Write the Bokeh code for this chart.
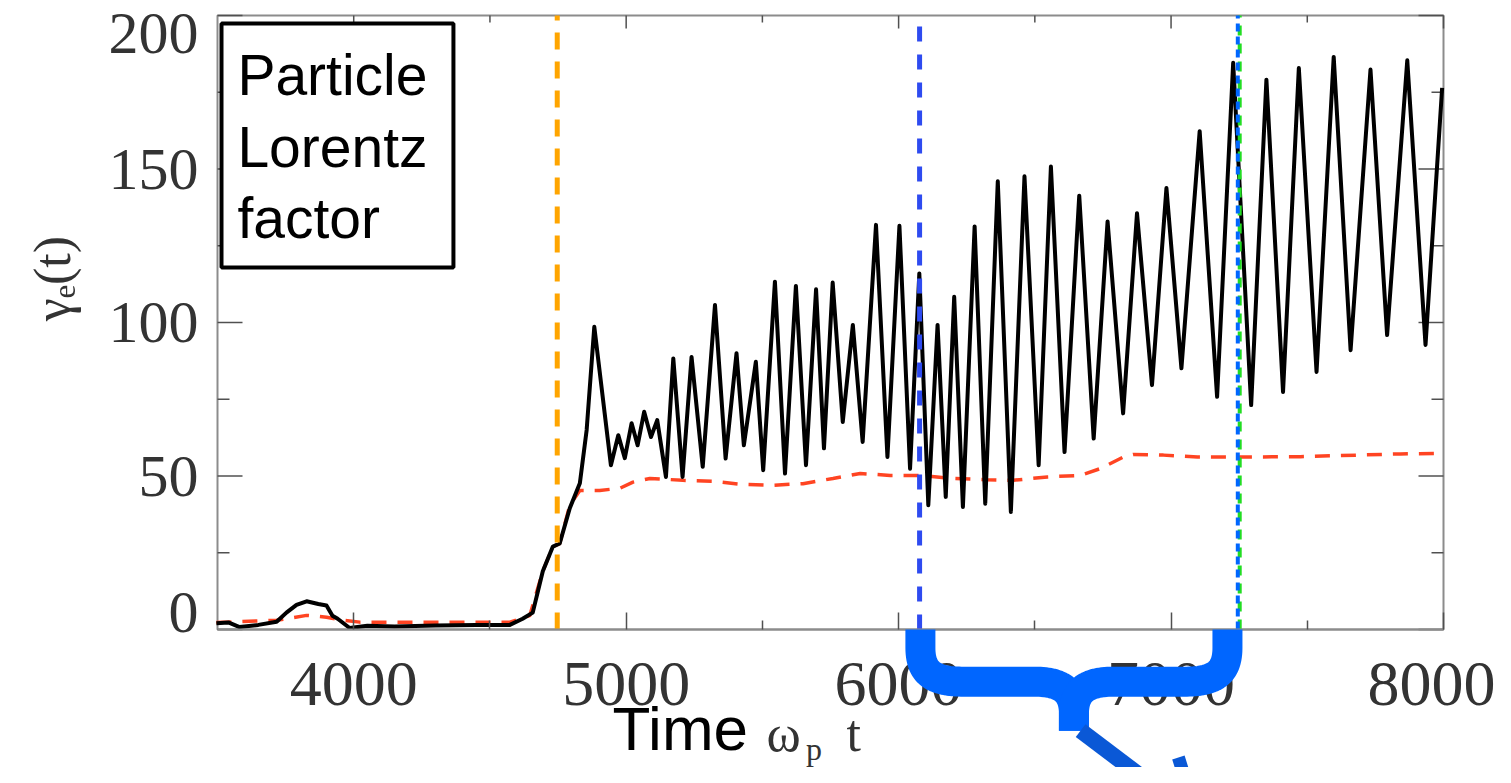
import numpy as np
from bokeh.plotting import figure
from bokeh.models import Range1d, LinearAxis, FixedTicker, BoxAnnotation
from bokeh.core.properties import value
from bokeh.embed import file_html
from bokeh.resources import INLINE

# ---------------- data ----------------
black_t = [3496, 3540, 3581, 3650, 3717, 3753, 3790, 3827, 3870, 3900, 3922, 3941, 3985,
           4050, 4150, 4300, 4450, 4573, 4620, 4657, 4694, 4731, 4756, 4793, 4830, 4855,
           4883, 4944, 4971, 4995, 5020, 5042, 5066, 5091, 5114, 5146, 5173, 5207, 5240,
           5281, 5326, 5365, 5405, 5432, 5476, 5503, 5546, 5583, 5623, 5660, 5697, 5726,
           5758, 5795, 5832, 5868, 5917, 5959, 6003, 6042, 6076, 6109, 6143, 6173, 6204,
           6236, 6279, 6318, 6364, 6412, 6462, 6514, 6559, 6609, 6663, 6716, 6767, 6824,
           6875, 6930, 6983, 7038, 7105, 7169, 7228, 7294, 7350, 7411, 7469, 7534, 7597,
           7659, 7732, 7793, 7867, 7934, 7995]
black_gamma = [2.0, 2.3, 0.8, 1.5, 2.5, 5.5, 8.0, 9.2, 8.3, 7.8, 4.5, 3.5, 0.5,
               1.2, 1.0, 1.3, 1.5, 1.5, 3.5, 5.5, 19, 27, 28, 39.5, 47.6, 65,
               98.6, 53.5, 63.3, 55.8, 67.2, 60, 70.9, 62.7, 68.2, 49.7, 88.3, 49.7, 88.8,
               53, 105.7, 55.7, 90, 60, 87.2, 51.9, 113.3, 50.8, 111.9, 53.5, 110.8, 59,
               113, 67.6, 99.2, 61.1, 131.8, 56.2, 131.5, 52.4, 116, 40.5, 99.2, 43.2, 108.4,
               39.9, 131.3, 41, 146, 38.3, 147.6, 53.5, 150.8, 57.8, 141.3, 62.2, 132.9, 70.4,
               135.6, 79.6, 143.8, 85.1, 162.3, 75.8, 184.6, 73.1, 179.1, 77.4, 182.9, 83.9, 186.5,
               91, 182.4, 95.9, 185.4, 92.7, 176.4]

red_t = [3496, 3717, 3827, 3900, 3959, 4022, 4573, 4646, 4694, 4731, 4756, 4793, 4830,
         4903, 4977, 5025, 5087, 5208, 5318, 5418, 5539, 5649, 5759, 5859, 5969, 6079,
         6200, 6325, 6421, 6546, 6667, 6740, 6825, 6861, 6972, 7097, 7291, 7475, 7842, 8000]
red_gamma = [2.3, 3.0, 4.6, 4.0, 3.0, 2.4, 2.4, 4.5, 19, 27, 28, 40.5, 45.3,
             45.3, 46, 48, 49.2, 48.6, 48.3, 47.3, 47, 47.5, 49.2, 50.8, 50.2, 50.2,
             49.2, 48.8, 48.6, 49.7, 50.2, 52.4, 56.2, 57, 56.8, 56.2, 56.2, 56.3, 57.2, 57.4]

orange_line_t = 4747
blue_line_t = 6077
blue2_line_t = 7245
green_line_t = 7252

x_min, x_max = 3500, 8000
y_min, y_max = 0, 200
x_ticks = [4000, 5000, 6000, 7000, 8000]
x_minor = [4500, 5500, 6500, 7500]
y_ticks = [0, 50, 100, 150, 200]
y_tick_labels = ["0", "50", "100", "150", "200"]
y_minor = [25, 75, 125, 175]

box_lines = ["Particle", "Lorentz", "factor"]
brace_arms = [6080, 7207]

# ---------------- figure: frame covers the whole canvas ----------------
W, H = 1495, 767
kx = 1226 / (x_max - x_min)      # px per time unit
ky = 614 / (y_max - y_min)       # px per gamma unit
p = figure(width=W, height=H,
           x_range=Range1d(x_min - 217 / kx, x_max + (W - 1443) / kx),
           y_range=Range1d(y_min - (H - 629) / ky, y_max + 15 / ky),
           output_backend="svg", toolbar_location=None,
           x_axis_location=None, y_axis_location=None,
           min_border_left=0, min_border_right=0, min_border_top=0, min_border_bottom=0)
p.outline_line_color = None
p.background_fill_color = "white"
p.border_fill_color = "white"
for g in list(p.xgrid) + list(p.ygrid):
    g.visible = False

AXC = "#8c8c8c"
TKC = "#505050"
SERIF = value("Liberation Serif")
SANS = value("Liberation Sans")

# plot box
p.add_layout(BoxAnnotation(left=x_min, right=x_max, bottom=y_min, top=y_max,
                           fill_color=None, line_color=AXC, line_alpha=1.0,
                           line_width=2, level="underlay"))

# bottom axis (ticks + labels)
xb = LinearAxis(fixed_location=y_min, bounds=(x_min, x_max),
                ticker=FixedTicker(ticks=x_ticks, minor_ticks=x_minor))
xb.axis_line_color = AXC
xb.axis_line_width = 2
xb.major_tick_in = 17
xb.major_tick_out = 0
xb.minor_tick_in = 9
xb.minor_tick_out = 0
xb.major_tick_line_color = TKC
xb.minor_tick_line_color = TKC
xb.major_tick_line_width = 1.5
xb.minor_tick_line_width = 1.5
xb.major_label_text_font = "Liberation Serif"
xb.major_label_text_font_size = "64px"
xb.major_label_text_color = "#333333"
xb.major_label_standoff = 33
p.add_layout(xb, "below")

# mirrored ticks on top, left and right edges
p.ray(x=x_ticks, y=[y_max] * len(x_ticks), length=13, length_units="screen",
      angle=-np.pi / 2, line_color=TKC, line_width=1.5)
p.ray(x=x_minor, y=[y_max] * len(x_minor), length=7, length_units="screen",
      angle=-np.pi / 2, line_color=TKC, line_width=1.5)
for xe, ang in ((x_min, 0.0), (x_max, np.pi)):
    p.ray(x=[xe] * len(y_ticks), y=y_ticks, length=25, length_units="screen",
          angle=ang, line_color=TKC, line_width=1.5)
    p.ray(x=[xe] * len(y_minor), y=y_minor, length=12, length_units="screen",
          angle=ang, line_color=TKC, line_width=1.5)

# y tick labels (end labels pulled inside the box, like the original)
nudge = [17 / ky, 0, 0, 0, -18 / ky]
y_label_pos = [yv + n for yv, n in zip(y_ticks, nudge)]
p.text(x=[x_min] * len(y_ticks), y=y_label_pos, text=y_tick_labels, x_offset=-19,
       text_align="right", text_baseline="middle", text_font=SERIF,
       text_font_size="60px", text_color="#333333")

# ---------------- curves ----------------
p.line(red_t, red_gamma, line_color="#FF4422", line_width=3.5, line_dash="15 11")
p.line(black_t, black_gamma, line_color="black", line_width=4, line_join="round")

# vertical markers
p.segment(x0=[orange_line_t], y0=[y_min], x1=[orange_line_t], y1=[y_max],
          line_color="#FFA500", line_width=5, line_dash="17 12")
p.segment(x0=[blue_line_t], y0=[y_min], x1=[blue_line_t], y1=[y_max],
          line_color="#2E4BF0", line_width=5, line_dash="15 13")
p.segment(x0=[green_line_t], y0=[y_min], x1=[green_line_t], y1=[y_max],
          line_color="#22DD22", line_width=4, line_dash="10 8")
p.segment(x0=[blue2_line_t], y0=[y_min], x1=[blue2_line_t], y1=[y_max],
          line_color="#0066FF", line_width=4, line_dash="8 5")

# ---------------- curly brace under the axis ----------------
def cubic(a, b, c, d, n=30):
    s = np.linspace(0, 1, n)[:, None]
    a, b, c, d = (np.array(v, dtype=float) for v in (a, b, c, d))
    return (1 - s) ** 3 * a + 3 * (1 - s) ** 2 * s * b + 3 * (1 - s) * s ** 2 * c + s ** 3 * d

al, ar = brace_arms
mid = (al + ar) / 2
half = np.vstack([
    [[al, 0.0]],
    cubic([al, -6], [al, -15], [al + 60, -17], [al + 160, -17]),
    cubic([mid - 145, -17], [mid - 45, -17], [mid, -20], [mid, -27.5]),
    [[mid, -33.0]],
])
left_x, left_y = half[:, 0], half[:, 1]
right_x = al + ar - left_x
for bx in (left_x, right_x):
    r = p.line(list(bx), list(left_y), line_color="#0066FF", line_width=30,
               line_cap="butt", line_join="round")
    r.level = "overlay"

# hand-drawn strokes
s1 = p.line([6668, 6925], [-32.9, -50.2], line_color="#0A58D6", line_width=16)
s1.level = "overlay"
s2 = p.line([7027, 7057], [-41.7, -50.2], line_color="#0A58D6", line_width=13)
s2.level = "overlay"

# ---------------- annotations ----------------
box = BoxAnnotation(left=3514.7, right=4366, top=197.4, bottom=117.9,
                    fill_color="white", fill_alpha=1.0, line_color="black",
                    line_alpha=1.0, line_width=4)
p.add_layout(box)
p.text(x=[3573] * 3, y=[180.5, 157.2, 133.9], text=box_lines,
       text_font=SANS, text_font_size="57px", text_color="black",
       text_baseline="middle", text_align="left", level="overlay")

p.text(x=[4950], y=[-32.2], text=["Time"], text_font=SANS, text_font_size="62px",
       text_color="black", text_baseline="middle")
p.text(x=[5515, 5809], y=[-33.9, -33.9], text=["ω", "t"], text_font=SERIF,
       text_font_size="52px", text_color="#333333", text_baseline="middle")
p.text(x=[5660], y=[-38.8], text=["p"], text_font=SERIF, text_font_size="32px",
       text_color="#333333", text_baseline="middle")

p.text(x=[2894], y=[114.3], text=["γₑ(t)"], text_font=SERIF, text_font_size="52px",
       text_color="#333333", angle=np.pi / 2, text_align="center", text_baseline="middle")

open("out.html", "w").write(file_html(p, INLINE))
